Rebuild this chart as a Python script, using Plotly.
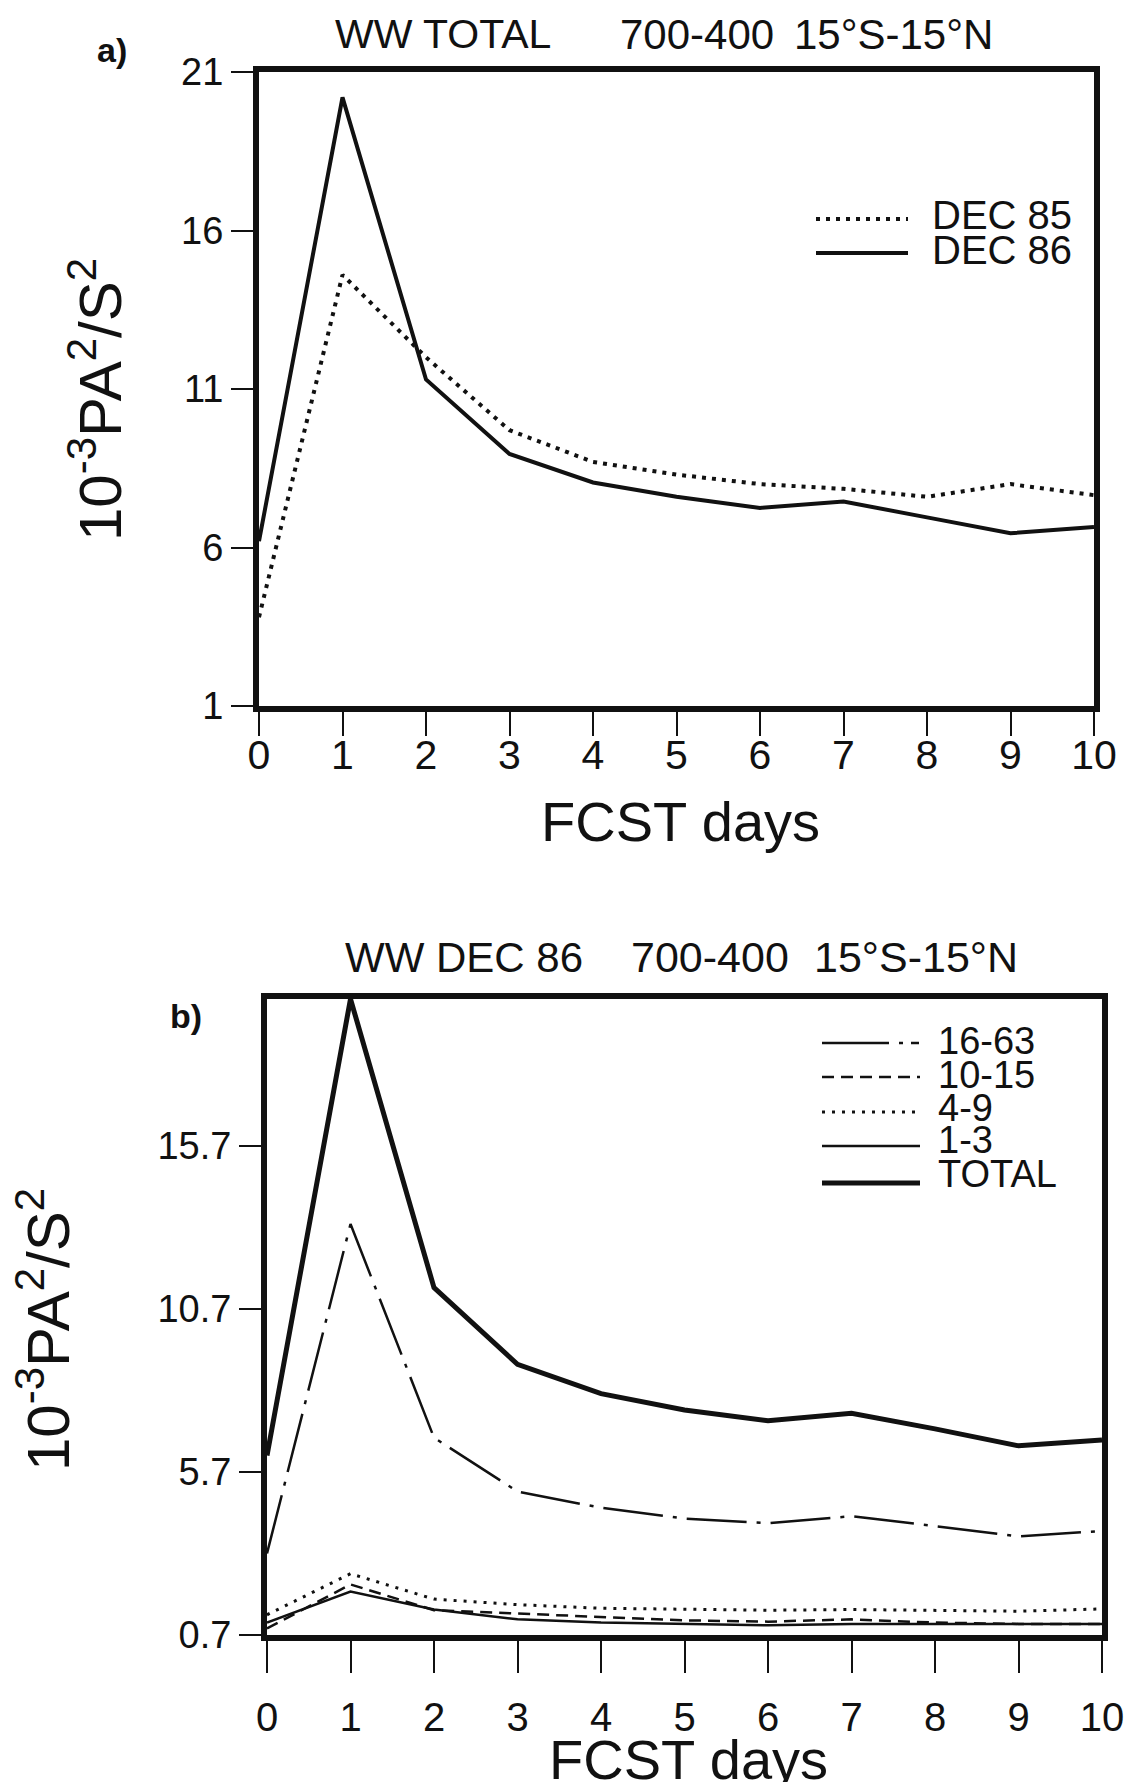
import plotly.graph_objects as go

# ---- data -------------------------------------------------------------
days = [0, 1, 2, 3, 4, 5, 6, 7, 8, 9, 10]

# panel a: total WW variance, 700-400 hPa, 15S-15N
dec85 = [3.8, 14.6, 12.0, 9.7, 8.7, 8.3, 8.0, 7.85, 7.6, 8.0, 7.65]
dec86 = [6.2, 20.2, 11.3, 8.95, 8.05, 7.6, 7.25, 7.45, 6.95, 6.45, 6.65]

# panel b: DEC 86 split by wavenumber band
total = [6.2, 20.2, 11.35, 9.0, 8.1, 7.6, 7.27, 7.5, 7.02, 6.5, 6.68]
band_16_63 = [3.2, 13.3, 6.75, 5.1, 4.6, 4.27, 4.13, 4.34, 4.04, 3.72, 3.89]
band_10_15 = [0.9, 2.25, 1.46, 1.35, 1.25, 1.15, 1.11, 1.18, 1.08, 1.04, 1.04]
band_4_9 = [1.32, 2.58, 1.8, 1.63, 1.52, 1.48, 1.46, 1.48, 1.46, 1.43, 1.5]
band_1_3 = [1.08, 2.03, 1.48, 1.18, 1.08, 1.04, 1.0, 1.04, 1.04, 1.04, 1.04]

ticks_a = [1, 6, 11, 16, 21]
ticks_b = [0.7, 5.7, 10.7, 15.7]

# ---- geometry helpers (pixel -> paper) ---------------------------------
W, H = 1132, 1782


def px(x):
    return x / W


def py(y):
    return 1 - y / H


FONT = "Liberation Sans, Arial, Helvetica, sans-serif"
NARROW = "Liberation Sans Narrow, Arial Narrow, Liberation Sans, Arial, sans-serif"
BLACK = "#111111"

fig = go.Figure()

# panel a
fig.add_trace(go.Scatter(x=days, y=dec85, mode="lines", xaxis="x", yaxis="y",
                         line=dict(color=BLACK, width=4, dash="4px,6px"), showlegend=False))
fig.add_trace(go.Scatter(x=days, y=dec86, mode="lines", xaxis="x", yaxis="y",
                         line=dict(color=BLACK, width=4), showlegend=False))

# panel b
fig.add_trace(go.Scatter(x=days, y=band_16_63, mode="lines", xaxis="x2", yaxis="y2",
                         line=dict(color=BLACK, width=2.5, dash="60px,10px,4px,10px"), showlegend=False))
fig.add_trace(go.Scatter(x=days, y=band_10_15, mode="lines", xaxis="x2", yaxis="y2",
                         line=dict(color=BLACK, width=2.5, dash="12px,7px"), showlegend=False))
fig.add_trace(go.Scatter(x=days, y=band_4_9, mode="lines", xaxis="x2", yaxis="y2",
                         line=dict(color=BLACK, width=3, dash="3px,7px"), showlegend=False))
fig.add_trace(go.Scatter(x=days, y=band_1_3, mode="lines", xaxis="x2", yaxis="y2",
                         line=dict(color=BLACK, width=2.5), showlegend=False))
fig.add_trace(go.Scatter(x=days, y=total, mode="lines", xaxis="x2", yaxis="y2",
                         line=dict(color=BLACK, width=5), showlegend=False))

axis_common = dict(showgrid=False, zeroline=False, showline=True, linecolor=BLACK,
                   linewidth=6, mirror=True, ticks="outside", tickcolor=BLACK,
                   tickwidth=2, automargin=False)

fig.update_layout(
    width=W, height=H,
    margin=dict(l=0, r=0, t=0, b=0),
    paper_bgcolor="white", plot_bgcolor="white",
    font=dict(family=FONT, color=BLACK),
    xaxis=dict(domain=[px(259), px(1094)], anchor="y", range=[0, 10],
               tickvals=days, ticklen=24, ticklabelstandoff=-16,
               tickfont=dict(size=41, family=FONT), **axis_common),
    yaxis=dict(domain=[py(706), py(72)], anchor="x", range=[1, 21],
               tickvals=ticks_a, ticklen=22, tickfont=dict(size=38, family=NARROW),
               **axis_common),
    xaxis2=dict(domain=[px(267), px(1102)], anchor="y2", range=[0, 10],
                tickvals=days, ticklen=32, ticklabelstandoff=10,
                tickfont=dict(size=40, family=FONT), **axis_common),
    yaxis2=dict(domain=[py(1635), py(999)], anchor="x2", range=[0.7, 20.2],
                tickvals=ticks_b, ticktext=["0.7", "5.7", "10.7", "15.7"],
                ticklen=22, tickfont=dict(size=38, family=FONT),
                **axis_common),
)

ann = []


def text(x, y, s, size, family=FONT, angle=0, xanchor="center", bold=False):
    if bold:
        s = "<b>" + s + "</b>"
    ann.append(dict(x=px(x), y=py(y), xref="paper", yref="paper", text=s,
                    showarrow=False, textangle=angle, xanchor=xanchor, yanchor="middle",
                    font=dict(size=size, family=family, color=BLACK)))


# panel titles
text(443, 34, "WW TOTAL", 41)
text(697, 34, "700-400", 42)
text(893, 34, "15°S-15°N", 42)
text(464, 957, "WW DEC 86", 42)
text(710, 957, "700-400", 43)
text(916, 957, "15°S-15°N", 43)

# panel letters
text(112, 50, "a)", 34, bold=True)
text(186, 1016, "b)", 34, bold=True)

# axis titles
ytitle = "10<sup>-3</sup>PA<sup>2</sup>/S<sup>2</sup>"
text(96, 400, ytitle, 60, angle=-90)
text(44, 1330, ytitle, 60, angle=-90)
text(681, 821, "FCST days", 56)
text(688, 1759, "FCST days", 56)

# legend, panel a
shapes = []


def sample(x0, x1, y, width, dash):
    shapes.append(dict(type="line", xref="paper", yref="paper",
                       x0=px(x0), x1=px(x1), y0=py(y), y1=py(y),
                       line=dict(color=BLACK, width=width, dash=dash)))


sample(816, 908, 219, 4, "4px,6px")
sample(816, 908, 253, 4, "solid")
text(930, 215, "DEC 85", 40, xanchor="left")
text(930, 250, "DEC 86", 40, xanchor="left")

# legend, panel b
legend_b = [("16-63", 2.5, "67px,10px,4px,8px,8px,200px"), ("10-15", 2.5, "12px,7px"),
            ("4-9", 3, "3px,7px"), ("1-3", 2.5, "solid"), ("TOTAL", 5, "solid")]
leg_y_line = [1043, 1077, 1112, 1146, 1183]
leg_y_text = [1041, 1075, 1108, 1140, 1174]
for (lab, w, d), yl, yt in zip(legend_b, leg_y_line, leg_y_text):
    sample(822, 920, yl, w, d)
    text(936, yt, lab, 38, xanchor="left")

fig.update_layout(annotations=ann, shapes=shapes)

fig.write_html("out.html")
